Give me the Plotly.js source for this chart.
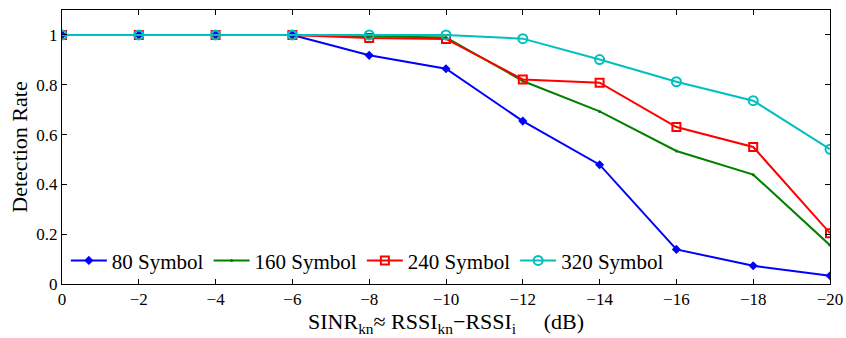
<!DOCTYPE html>
<html>
<head>
<meta charset="utf-8">
<script src="https://cdn.plot.ly/plotly-3.0.1.min.js"></script>
<style>html,body{margin:0;padding:0;background:#fff;}#chart{width:846px;height:338px;}</style>
</head>
<body>
<div id="chart"></div>
<script>
const sinr = [0, -2, -4, -6, -8, -10, -12, -14, -16, -18, -20];
const sym80  = [1, 1, 1, 1, 0.918, 0.864, 0.654, 0.479, 0.139, 0.073, 0.033];
const sym160 = [1, 1, 1, 1, 0.995, 0.99, 0.815, 0.693, 0.534, 0.439, 0.156];
const sym240 = [1, 1, 1, 1, 0.988, 0.984, 0.821, 0.808, 0.630, 0.550, 0.204];
const sym320 = [1, 1, 1, 1, 1.0, 1.0, 0.985, 0.901, 0.812, 0.736, 0.541];
const names = ['80 Symbol', '160 Symbol', '240 Symbol', '320 Symbol'];
const xTicks = [0, -2, -4, -6, -8, -10, -12, -14, -16, -18, -20];
const yTicks = [0, 0.2, 0.4, 0.6, 0.8, 1];

const fam = '"Liberation Serif", "Times New Roman", "DejaVu Serif", serif';
const f = (s) => ({family: fam, size: s, color: '#000'});
const traces = [
  {x: sinr, y: sym80, name: names[0], mode: 'lines+markers',
   line: {color: '#0000ff', width: 2}, marker: {symbol: 'diamond', size: 7, color: '#0000ff'}},
  {x: sinr, y: sym160, name: names[1], mode: 'lines+markers',
   line: {color: '#008000', width: 2}, marker: {symbol: 'circle', size: 3, color: '#008000'}},
  {x: sinr, y: sym240, name: names[2], mode: 'lines+markers',
   line: {color: '#ff0000', width: 2}, marker: {symbol: 'square-open', size: 8, color: '#ff0000', line: {width: 2}}},
  {x: sinr, y: sym320, name: names[3], mode: 'lines+markers',
   line: {color: '#00bfbf', width: 2}, marker: {symbol: 'circle-open', size: 9, color: '#00bfbf', line: {width: 2}}}
];
const layout = {
  width: 846, height: 338,
  margin: {l: 62, r: 16, t: 10, b: 54},
  paper_bgcolor: '#fff', plot_bgcolor: '#fff',
  font: f(17),
  showlegend: true,
  legend: {orientation: 'h', x: 0.005, y: 0.01, xanchor: 'left', yanchor: 'bottom',
           bgcolor: 'rgba(0,0,0,0)', font: f(21), tracegroupgap: 0, itemwidth: 36},
  xaxis: {
    range: [0, -20], tickvals: xTicks, ticks: 'inside', ticklen: 5, tickcolor: '#000',
    showline: true, linecolor: '#000', linewidth: 1, mirror: 'ticks', showgrid: false, zeroline: false,
    tickfont: f(17),
    title: {text: 'SINR<sub>kn</sub>≈ RSSI<sub>kn</sub>−RSSI<sub>i</sub>\u00a0\u00a0\u00a0\u00a0\u00a0(dB)', font: f(22), standoff: 0}
  },
  yaxis: {
    range: [0, 1.1], tickvals: yTicks, ticks: 'inside', ticklen: 5, tickcolor: '#000',
    showline: true, linecolor: '#000', linewidth: 1, mirror: 'ticks', showgrid: false, zeroline: false,
    tickfont: f(17),
    title: {text: 'Detection Rate', font: f(22), standoff: 2}
  }
};
Plotly.newPlot('chart', traces, layout, {displayModeBar: false, staticPlot: true});
</script>
</body>
</html>
